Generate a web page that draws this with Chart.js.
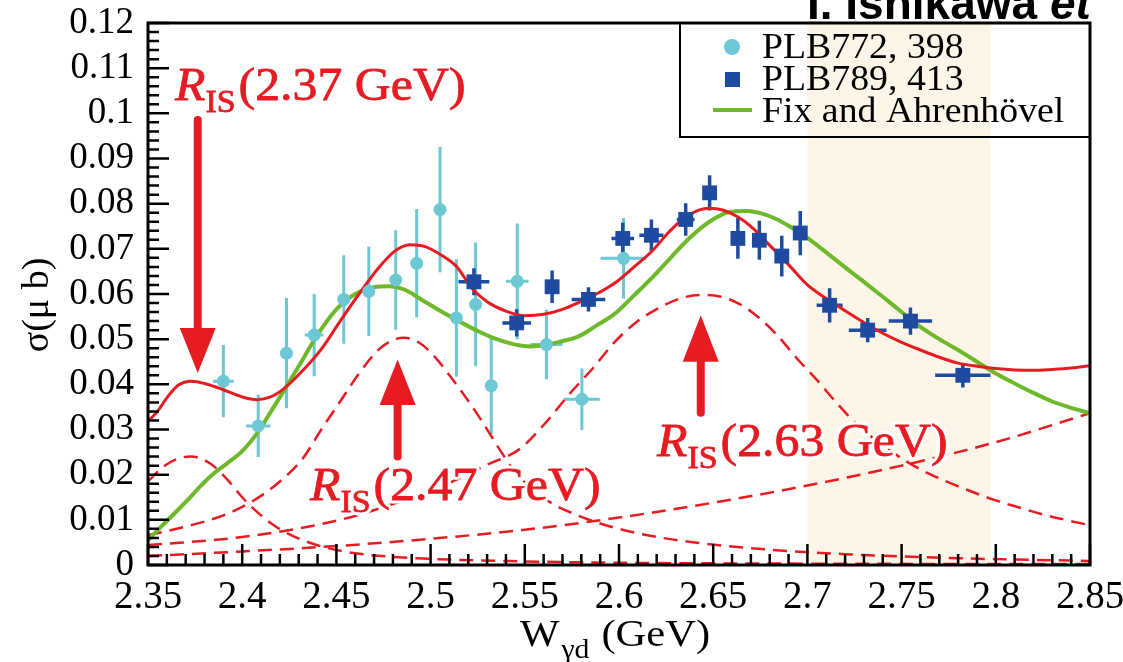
<!DOCTYPE html>
<html><head><meta charset="utf-8">
<script src="https://cdn.jsdelivr.net/npm/chart.js@4.4.1/dist/chart.umd.min.js"></script>
<style>html,body{margin:0;padding:0;background:#fff;}#wrap{width:1123px;height:662px;}</style>
</head><body><div id="wrap"><canvas id="c" width="1123" height="662"></canvas></div>
<script>
// ---------- tick labels ----------
const xTickValues = [2.35,2.40,2.45,2.50,2.55,2.60,2.65,2.70,2.75,2.80,2.85];
const xTickLabels = ["2.35","2.4","2.45","2.5","2.55","2.6","2.65","2.7","2.75","2.8","2.85"];
const yTickValues = [0,0.01,0.02,0.03,0.04,0.05,0.06,0.07,0.08,0.09,0.10,0.11,0.12];
const yTickLabels = ["0","0.01","0.02","0.03","0.04","0.05","0.06","0.07","0.08","0.09","0.1","0.11","0.12"];

// ---------- data: PLB772, 398 ----------
const cyanX    = [2.390,2.4085,2.4235,2.4382,2.4539,2.4672,2.4815,2.4926,2.5050,2.5137,2.5239,2.5322,2.5460,2.5615,2.5803,2.6024];
const cyanY    = [0.0407,0.0308,0.0469,0.0509,0.0588,0.0606,0.0631,0.0668,0.0787,0.0547,0.0577,0.0397,0.0628,0.0488,0.0367,0.0679];
const cyanYErr = [0.0080,0.0069,0.0122,0.0091,0.0098,0.0099,0.0110,0.0120,0.0139,0.0130,0.0137,0.0107,0.0128,0.0077,0.0068,0.0089];
const cyanXErr = [0.0055,0.0065,0,0.0050,0,0,0,0,0,0,0,0,0.0060,0.0085,0.0095,0.0122];

// ---------- data: PLB789, 413 ----------
const blueX    = [2.5230,2.5457,2.5645,2.5838,2.6020,2.6172,2.6354,2.6481,2.6631,2.6745,2.6864,2.6962,2.7118,2.7320,2.7547,2.7825];
const blueY    = [0.0627,0.0536,0.0616,0.0588,0.0723,0.0730,0.0765,0.0824,0.0723,0.0719,0.0684,0.0735,0.0575,0.0520,0.0540,0.0420];
const blueYErr = [0.0030,0.0030,0.0036,0.0027,0.0035,0.0035,0.0036,0.0039,0.0045,0.0043,0.0045,0.0049,0.0038,0.0027,0.0030,0.0027];
const blueXErr = [0.0082,0.0076,0.0030,0.0089,0.0060,0.0064,0.0047,0.0030,0.0030,0.0030,0.0030,0.0030,0.0069,0.0100,0.0115,0.0147];

// ---------- curves ----------
const totalX = [2.350,2.355,2.360,2.366,2.373,2.380,2.390,2.400,2.408,2.415,2.422,2.432,2.442,2.452,2.462,2.472,2.481,2.489,2.497,2.505,2.514,2.522,2.530,2.540,2.550,2.560,2.570,2.578,2.588,2.598,2.608,2.618,2.626,2.634,2.642,2.648,2.655,2.663,2.671,2.679,2.690,2.700,2.710,2.720,2.730,2.740,2.750,2.760,2.770,2.780,2.790,2.800,2.810,2.820,2.830,2.840,2.850];
const totalY = [0.0318,0.0340,0.0370,0.0398,0.0407,0.0402,0.0388,0.0372,0.0366,0.0372,0.0390,0.0430,0.0478,0.0540,0.0600,0.0656,0.0695,0.0709,0.0705,0.0688,0.0660,0.0612,0.0583,0.0562,0.0552,0.0555,0.0566,0.0580,0.0600,0.0625,0.0660,0.0697,0.0735,0.0766,0.0785,0.0790,0.0786,0.0771,0.0746,0.0712,0.0665,0.0620,0.0590,0.0563,0.0537,0.0513,0.0493,0.0476,0.0460,0.0447,0.0440,0.0435,0.0432,0.0431,0.0433,0.0436,0.0441];

const fixX = [2.350,2.357,2.364,2.372,2.378,2.385,2.392,2.400,2.408,2.415,2.422,2.430,2.440,2.450,2.460,2.470,2.478,2.486,2.495,2.505,2.515,2.525,2.535,2.545,2.553,2.562,2.570,2.578,2.588,2.598,2.608,2.618,2.628,2.638,2.648,2.658,2.668,2.676,2.684,2.692,2.700,2.710,2.720,2.730,2.740,2.750,2.760,2.770,2.780,2.790,2.800,2.810,2.820,2.830,2.840,2.850];
const fixY = [0.0055,0.0085,0.0114,0.0148,0.0175,0.0203,0.0225,0.0252,0.0292,0.0338,0.0385,0.0440,0.0510,0.0566,0.0600,0.0615,0.0617,0.0610,0.0588,0.0563,0.0540,0.0518,0.0500,0.0488,0.0484,0.0488,0.0496,0.0505,0.0530,0.0557,0.0597,0.0638,0.0683,0.0726,0.0760,0.0781,0.0784,0.0778,0.0765,0.0746,0.0724,0.0692,0.0659,0.0627,0.0594,0.0560,0.0527,0.0500,0.0476,0.0450,0.0424,0.0402,0.0381,0.0362,0.0348,0.0336];

const peak237X = [2.350,2.356,2.362,2.368,2.373,2.379,2.386,2.393,2.400,2.408,2.416,2.424,2.434,2.445,2.460,2.480,2.510,2.550,2.600,2.700,2.850];
const peak237Y = [0.0185,0.0210,0.0228,0.0238,0.0240,0.0234,0.0215,0.0185,0.0150,0.0117,0.0090,0.0070,0.0052,0.0038,0.0026,0.0018,0.0012,0.0008,0.0005,0.0003,0.0002];

const peak247X = [2.350,2.370,2.390,2.405,2.420,2.432,2.442,2.452,2.462,2.472,2.480,2.486,2.494,2.502,2.510,2.518,2.527,2.536,2.545,2.555,2.565,2.578,2.590,2.610,2.640,2.680,2.720,2.780,2.850];
const peak247Y = [0.0066,0.0085,0.0110,0.0140,0.0185,0.0235,0.0300,0.0362,0.0424,0.0475,0.0498,0.0503,0.0492,0.0462,0.0420,0.0375,0.0320,0.0260,0.0205,0.0165,0.0135,0.0110,0.0092,0.0070,0.0050,0.0034,0.0024,0.0015,0.0009];

const peak263X = [2.350,2.400,2.450,2.480,2.510,2.530,2.547,2.560,2.574,2.586,2.598,2.610,2.622,2.634,2.644,2.654,2.663,2.673,2.683,2.696,2.705,2.714,2.723,2.732,2.745,2.758,2.771,2.785,2.800,2.811,2.825,2.838,2.850];
const peak263Y = [0.0044,0.0062,0.0098,0.0135,0.0182,0.0222,0.0256,0.0310,0.0380,0.0435,0.0495,0.0540,0.0571,0.0592,0.0598,0.0594,0.0580,0.0552,0.0513,0.0450,0.0410,0.0366,0.0325,0.0291,0.0250,0.0216,0.0190,0.0166,0.0143,0.0129,0.0112,0.0099,0.0088];

const bgX = [2.35,2.40,2.45,2.50,2.55,2.60,2.65,2.70,2.75,2.80,2.85];
const bgY = [0.0020,0.0030,0.0042,0.0058,0.0078,0.0105,0.0138,0.0176,0.0220,0.0272,0.0336];

const shadeFrom = 2.70, shadeTo = 2.797;

// ---------- colours ----------
const CYAN = 'rgb(108,200,212)';
const BLUE = 'rgb(30,74,160)';
const GREEN = 'rgb(110,184,44)';
const RED = 'rgb(230,28,34)';
const SHADE = 'rgb(253,246,232)';
const SERIF = "'Liberation Serif','Times New Roman',serif";

const pts = (xs, ys) => xs.map((x, i) => ({x: x, y: ys[i]}));

function drawErrors(ctx, c, xs, ys, exs, eys, color, lw) {
  const sx = c.scales.x, sy = c.scales.y;
  ctx.save();
  ctx.strokeStyle = color; ctx.lineWidth = lw; ctx.lineCap = 'butt';
  for (let i = 0; i < xs.length; i++) {
    const px = sx.getPixelForValue(xs[i]), py = sy.getPixelForValue(ys[i]);
    ctx.beginPath();
    ctx.moveTo(px, sy.getPixelForValue(ys[i] - eys[i]));
    ctx.lineTo(px, sy.getPixelForValue(ys[i] + eys[i]));
    if (exs[i] > 0) {
      ctx.moveTo(sx.getPixelForValue(xs[i] - exs[i]), py);
      ctx.lineTo(sx.getPixelForValue(xs[i] + exs[i]), py);
    }
    ctx.stroke();
  }
  ctx.restore();
}

function risLabel(ctx, x, y, val) {
  ctx.save();
  ctx.textBaseline = 'alphabetic';
  ctx.lineJoin = 'round';
  const SX = 1.06;
  const parts = [
    {t: 'R', f: 'italic 47px ' + SERIF, dy: 0},
    {t: 'IS', f: '32px ' + SERIF, dy: 12},
    {t: '(' + val + ' GeV)', f: '47px ' + SERIF, dy: 0}
  ];
  let cx = x;
  const pos = [];
  for (const p of parts) {
    ctx.font = p.f;
    const w = ctx.measureText(p.t).width * SX;
    pos.push({p: p, x: cx});
    cx += w + (p.t === 'IS' ? 3 : 0);
  }
  for (const pass of [0, 1]) {
    for (const q of pos) {
      ctx.save();
      ctx.translate(q.x, y + q.p.dy);
      ctx.scale(SX, 1);
      ctx.font = q.p.f;
      if (pass === 0) { ctx.strokeStyle = '#fff'; ctx.lineWidth = 7; ctx.strokeText(q.p.t, 0, 0); }
      else { ctx.fillStyle = RED; ctx.strokeStyle = RED; ctx.lineWidth = 0.8; ctx.fillText(q.p.t, 0, 0); ctx.strokeText(q.p.t, 0, 0); }
      ctx.restore();
    }
  }
  ctx.restore();
}

function arrow(ctx, c, xv, tailV, baseV, tipV) {
  const sx = c.scales.x, sy = c.scales.y;
  const px = sx.getPixelForValue(xv);
  const tail = sy.getPixelForValue(tailV), base = sy.getPixelForValue(baseV), tip = sy.getPixelForValue(tipV);
  ctx.save();
  ctx.strokeStyle = RED; ctx.fillStyle = RED; ctx.lineWidth = 8; ctx.lineCap = 'round';
  ctx.beginPath(); ctx.moveTo(px, tail); ctx.lineTo(px, base); ctx.stroke();
  ctx.beginPath(); ctx.moveTo(px, tip); ctx.lineTo(px - 18, base); ctx.lineTo(px + 18, base); ctx.closePath(); ctx.fill();
  ctx.restore();
}

const decor = {
  id: 'decor',
  beforeDatasetsDraw(c) {
    const ctx = c.ctx, a = c.chartArea, sx = c.scales.x;
    ctx.save();
    ctx.fillStyle = SHADE;
    const l = sx.getPixelForValue(shadeFrom), r = sx.getPixelForValue(shadeTo);
    ctx.fillRect(l, a.top, r - l, a.bottom - a.top);
    ctx.restore();
    drawErrors(ctx, c, cyanX, cyanY, cyanXErr, cyanYErr, CYAN, 3);
    drawErrors(ctx, c, blueX, blueY, blueXErr, blueYErr, BLUE, 3.5);
  },
  afterDatasetsDraw(c) {
    const ctx = c.ctx, a = c.chartArea, sx = c.scales.x, sy = c.scales.y;
    // ticks
    ctx.save();
    ctx.strokeStyle = '#000'; ctx.lineWidth = 2.5;
    ctx.beginPath();
    for (let k = 0; k <= 50; k++) {
      const v = 2.35 + k * 0.01;
      const px = sx.getPixelForValue(v);
      const len = (k % 5 === 0) ? 21 : 11;
      ctx.moveTo(px, a.bottom); ctx.lineTo(px, a.bottom - len);
    }
    for (let k = 0; k <= 60; k++) {
      const v = k * 0.002;
      const py = sy.getPixelForValue(v);
      const len = (k % 5 === 0) ? 21 : 11;
      ctx.moveTo(a.left, py); ctx.lineTo(a.left + len, py);
    }
    ctx.stroke();
    ctx.lineWidth = 3;
    ctx.strokeRect(a.left, a.top, a.right - a.left, a.bottom - a.top);
    // legend box
    ctx.lineWidth = 2;
    ctx.beginPath();
    ctx.moveTo(680, a.top); ctx.lineTo(680, 137); ctx.lineTo(a.right, 137);
    ctx.stroke();
    ctx.restore();

    // legend entries
    ctx.save();
    ctx.fillStyle = CYAN;
    ctx.beginPath(); ctx.arc(732, 47, 8, 0, Math.PI * 2); ctx.fill();
    ctx.fillStyle = BLUE;
    ctx.fillRect(725, 72, 15, 15);
    ctx.strokeStyle = GREEN; ctx.lineWidth = 4;
    ctx.beginPath(); ctx.moveTo(713, 110); ctx.lineTo(752, 110); ctx.stroke();
    ctx.fillStyle = '#000';
    ctx.font = '36px ' + SERIF;
    ctx.textBaseline = 'alphabetic';
    const legendTexts = ['PLB772, 398', 'PLB789, 413', 'Fix and Ahrenhövel'];
    const bases = [58, 90, 122];
    legendTexts.forEach((t, i) => {
      ctx.save(); ctx.translate(762, bases[i]); ctx.scale(1.05, 1); ctx.fillText(t, 0, 0); ctx.restore();
    });
    ctx.restore();

    // arrows + labels
    arrow(ctx, c, 2.3764, 0.0985, 0.0525, 0.0425);
    arrow(ctx, c, 2.4825, 0.0240, 0.0354, 0.0455);
    arrow(ctx, c, 2.6434, 0.0337, 0.0450, 0.0553);
    risLabel(ctx, 175, 100, '2.37');
    risLabel(ctx, 310, 500, '2.47');
    risLabel(ctx, 657, 456, '2.63');

    // axis titles
    ctx.save();
    ctx.fillStyle = '#000';
    ctx.font = '38px ' + SERIF;
    ctx.textBaseline = 'middle'; ctx.textAlign = 'center';
    ctx.translate(38, 305); ctx.rotate(-Math.PI / 2);
    ctx.fillText('σ(μ b)', 0, 0);
    ctx.restore();

    ctx.save();
    ctx.fillStyle = '#000';
    ctx.textBaseline = 'alphabetic';
    ctx.font = '38px ' + SERIF;
    let x0 = 520;
    ctx.save(); ctx.translate(x0, 646); ctx.scale(1.1, 1); ctx.fillText('W', 0, 0); ctx.restore();
    x0 += ctx.measureText('W').width * 1.1 + 2;
    ctx.font = '27px ' + SERIF;
    ctx.save(); ctx.translate(x0, 658); ctx.scale(1.1, 1); ctx.fillText('γd', 0, 0); ctx.restore();
    x0 += ctx.measureText('γd').width * 1.1 + 12;
    ctx.font = '38px ' + SERIF;
    ctx.save(); ctx.translate(x0, 646); ctx.scale(1.12, 1); ctx.fillText('(GeV)', 0, 0); ctx.restore();
    ctx.restore();

    // header
    ctx.save();
    ctx.fillStyle = '#000';
    ctx.textBaseline = 'alphabetic';
    ctx.font = "bold 46px 'Liberation Sans', Arial, sans-serif";
    ctx.fillText('I. Ishikawa ', 807, 19);
    const w = ctx.measureText('I. Ishikawa ').width;
    ctx.font = "italic bold 46px 'Liberation Sans', Arial, sans-serif";
    ctx.fillText('et', 807 + w, 19);
    ctx.restore();
  }
};

new Chart(document.getElementById('c'), {
  type: 'scatter',
  data: {
    datasets: [
      {label: 'PLB772, 398', data: pts(cyanX, cyanY), pointStyle: 'circle', pointRadius: 6.5, pointHoverRadius: 6.5, backgroundColor: CYAN, borderColor: CYAN, borderWidth: 0},
      {label: 'PLB789, 413', data: pts(blueX, blueY), pointStyle: 'rect', pointRadius: 10.5, pointHoverRadius: 10.5, backgroundColor: BLUE, borderColor: BLUE, borderWidth: 0},
      {label: 'total', data: pts(totalX, totalY), showLine: true, pointRadius: 0, borderColor: RED, borderWidth: 3, cubicInterpolationMode: 'monotone', fill: false},
      {label: 'Fix and Ahrenhövel', data: pts(fixX, fixY), showLine: true, pointRadius: 0, borderColor: GREEN, borderWidth: 4, cubicInterpolationMode: 'monotone', fill: false},
      {label: 'R 2.37', data: pts(peak237X, peak237Y), showLine: true, pointRadius: 0, borderColor: RED, borderWidth: 2.5, borderDash: [14, 8], cubicInterpolationMode: 'monotone', fill: false},
      {label: 'R 2.47', data: pts(peak247X, peak247Y), showLine: true, pointRadius: 0, borderColor: RED, borderWidth: 2.5, borderDash: [14, 8], cubicInterpolationMode: 'monotone', fill: false},
      {label: 'R 2.63', data: pts(peak263X, peak263Y), showLine: true, pointRadius: 0, borderColor: RED, borderWidth: 2.5, borderDash: [14, 8], cubicInterpolationMode: 'monotone', fill: false},
      {label: 'background', data: pts(bgX, bgY), showLine: true, pointRadius: 0, borderColor: RED, borderWidth: 2.5, borderDash: [14, 8], cubicInterpolationMode: 'monotone', fill: false}
    ]
  },
  options: {
    responsive: false,
    animation: false,
    devicePixelRatio: 1,
    layout: {padding: {left: 0, top: 23, right: 33, bottom: 0}},
    plugins: {legend: {display: false}, tooltip: {enabled: false}},
    scales: {
      x: {
        type: 'linear', min: 2.35, max: 2.85,
        afterBuildTicks: s => { s.ticks = xTickValues.map(v => ({value: v})); },
        afterFit: s => { s.height = 97; s.paddingLeft = 0; s.paddingRight = 0; },
        ticks: {callback: (v, i) => xTickLabels[i], font: {family: 'Liberation Serif', size: 39}, color: '#000', padding: 9, maxRotation: 0, autoSkip: false},
        grid: {display: false, drawTicks: false},
        border: {display: false}
      },
      y: {
        type: 'linear', min: 0, max: 0.12,
        afterBuildTicks: s => { s.ticks = yTickValues.map(v => ({value: v})); },
        afterFit: s => { s.width = 148; s.paddingTop = 0; s.paddingBottom = 0; },
        ticks: {callback: (v, i) => yTickLabels[i], font: {family: 'Liberation Serif', size: 37}, color: '#000', padding: 14, autoSkip: false},
        grid: {display: false, drawTicks: false},
        border: {display: false}
      }
    }
  },
  plugins: [decor]
});
</script>
</body></html>
